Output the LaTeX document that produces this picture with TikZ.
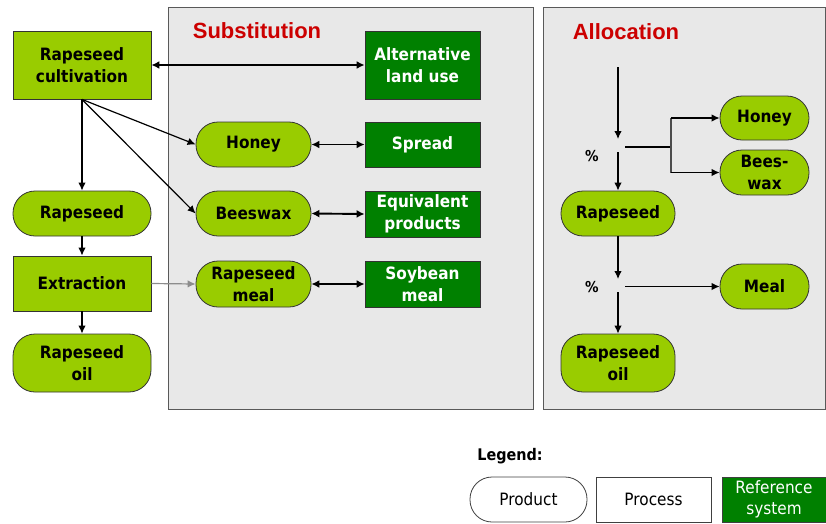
\documentclass[tikz,border=0pt]{standalone}
\usepackage{fontspec}
\setmainfont{DejaVu Sans}[FakeStretch=0.9]
\newfontfamily\titlefont{Liberation Sans}
\usetikzlibrary{arrows.meta}
\definecolor{lgreen}{RGB}{153,204,0}
\definecolor{dgreen}{RGB}{0,128,0}
\definecolor{panelgray}{RGB}{232,232,232}
\definecolor{titlered}{RGB}{204,0,0}
\tikzset{
  base/.style={inner sep=0pt, align=center, font=\fontsize{17}{22}\selectfont\bfseries, draw=black!80, line width=0.8pt},
  sz/.style 2 args={minimum width=#1, minimum height=#2},
  proc/.style={base, rectangle, fill=lgreen},
  prod/.style={base, rectangle, rounded corners=22pt, fill=lgreen},
  refsys/.style={base, rectangle, fill=dgreen, text=white},
  panel/.style={fill=panelgray, draw=black!65, line width=1pt},
  arr/.style={-{Latex[length=8pt,width=7.5pt]}, line width=1.2pt},
  biarr/.style={{Latex[length=8pt,width=8pt]}-{Latex[length=8pt,width=8pt]}, line width=1.9pt},
  ln/.style={line width=1.2pt},
  ttl/.style={font=\titlefont\fontsize{22}{24}\selectfont\bfseries, text=titlered, inner sep=0pt},
  pct/.style={font=\fontsize{15}{16}\selectfont\bfseries, inner sep=0pt},
  leg/.style={inner sep=0pt, align=center, font=\fontsize{17}{20}\selectfont, draw=black!75, line width=0.8pt}
}
\begin{document}
\begin{tikzpicture}[x=1pt,y=-1pt]
\useasboundingbox (0,0) rectangle (826,523);
% panels
\draw[panel] (168,7) rectangle (533,409);
\draw[panel] (543,7) rectangle (825,409);
\node[ttl] (tsub) at (257,31) {Substitution};
\node[ttl] (talloc) at (626,32) {Allocation};
% left chain
\node[proc, sz={138}{68}] (cult) at (82,65) {Rapeseed\\cultivation};
\node[prod, sz={138}{45}] (rs1) at (82,213.5) {Rapeseed};
\node[proc, sz={138}{55}] (extr) at (82,283.5) {Extraction};
\node[prod, sz={138}{58}] (oil1) at (82,363) {Rapeseed\\oil};
% substitution
\node[prod, sz={115}{45}] (honey) at (253.5,144.5) {Honey};
\node[prod, sz={115}{45}] (bwax) at (253.5,213.5) {Beeswax};
\node[prod, sz={115}{46}] (meal1) at (253.5,284) {Rapeseed\\meal};
\node[refsys, sz={115}{68}] (alt) at (422.5,65) {Alternative\\land use};
\node[refsys, sz={115}{45}] (spread) at (422.5,144.5) {Spread};
\node[refsys, sz={115}{46}] (equiv) at (422.5,214) {Equivalent\\products};
\node[refsys, sz={115}{46}] (soy) at (422.5,284) {Soybean\\meal};
% allocation
\node[prod, sz={89}{44}] (honey2) at (764.5,118) {Honey};
\node[prod, sz={89}{45}] (bwax2) at (764.5,172.5) {Bees-\\wax};
\node[prod, sz={114}{45}] (rs2) at (618,213.5) {Rapeseed};
\node[prod, sz={89}{45}] (meal2) at (764.5,286.5) {Meal};
\node[prod, sz={114}{58}] (oil2) at (618,363) {Rapeseed\\oil};
\node[pct] (p1) at (592,156) {\%};
\node[pct] (p2) at (592,287) {\%};
\coordinate (a0) at (618,67);
\coordinate (a1) at (618,139);
\coordinate (a2) at (618,152);
\coordinate (h0) at (625,147);
\coordinate (h1) at (671,147);
\coordinate (hu) at (671,118);
\coordinate (hd) at (671,172.5);
\coordinate (b1) at (618,279);
\coordinate (b2) at (618,292);
\coordinate (m0) at (625,286.5);
% legend
\node[font=\fontsize{16}{18}\selectfont\bfseries, inner sep=0pt] (legt) at (510,456) {Legend:};
\node[leg, rounded corners=22pt, fill=white, sz={117}{45}] (lprod) at (528.5,499.5) {Product};
\node[leg, fill=white, sz={115}{45}] (lproc) at (653.5,499.5) {Process};
\node[leg, fill=dgreen, text=white, sz={104}{45}, font=\fontsize{17}{21}\selectfont] (lref) at (774,499.5) {Reference\\system};
% connectors left / substitution
\draw[arr] (cult.south) -- (rs1.north);
\draw[arr] (rs1.south) -- (extr.north);
\draw[arr] (extr.south) -- (oil1.north);
\draw[arr] (cult.south) -- (honey.west);
\draw[arr] (cult.south) -- (bwax.west);
\draw[arr, draw=black!45] (extr.east) -- (meal1.west);
\draw[biarr] (cult.east) -- (alt.west);
\draw[biarr] (honey.east) -- (spread.west);
\draw[biarr] (bwax.east) -- (equiv.west);
\draw[biarr] (meal1.east) -- (soy.west);
% connectors allocation
\draw[arr] (a0) -- (a1);
\draw[arr] (a2) -- (rs2.north);
\draw[line width=1.8pt] (h0) -- (h1);
\draw[ln, draw=black!70] (hu) -- (hd);
\draw[arr] (hu) -- (honey2.west);
\draw[arr] (hd) -- (bwax2.west);
\draw[arr] (rs2.south) -- (b1);
\draw[arr] (b2) -- (oil2.north);
\draw[arr] (m0) -- (meal2.west);
\end{tikzpicture}
\end{document}
